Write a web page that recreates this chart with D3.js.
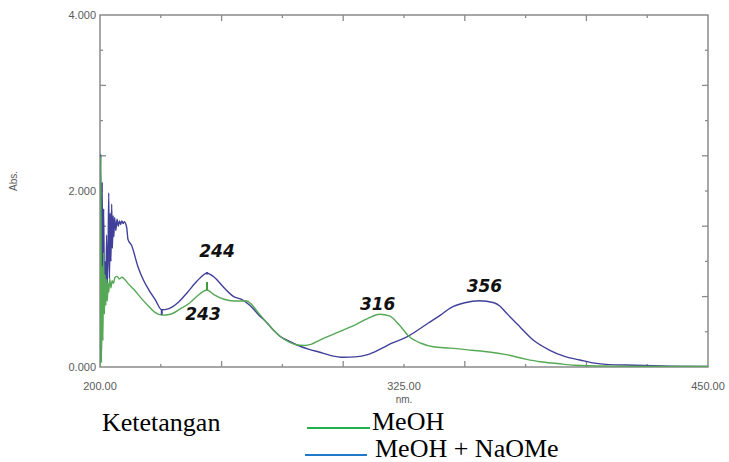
<!DOCTYPE html>
<html>
<head>
<meta charset="utf-8">
<script src="https://cdn.jsdelivr.net/npm/d3@7"></script>
<style>
  html, body { margin: 0; padding: 0; background: #fff; }
  svg { display: block; }
</style>
</head>
<body>
<svg id="chart" width="729" height="462"></svg>
<script>
// UV spectra: wavelength (nm) and absorbance for each solvent system
const meohNm = [200.0, 200.3, 200.6, 200.9, 201.2, 201.5, 201.8, 202.1, 202.4, 202.7, 203.0, 203.3, 203.6,
  204.0, 204.5, 205.0, 205.5, 206.2, 207, 208, 209, 210, 211.5, 214, 217, 220, 222.6, 225.4, 229, 233, 237,
  241, 244, 247, 251, 255, 258, 260.4, 262, 265, 268.7, 272, 274, 278, 281, 284, 287, 290, 295.8, 300, 305,
  310, 315, 319, 323, 327, 332, 337, 344, 353, 360, 367, 375, 381, 388, 395, 410, 430, 450];
const meohAbs = [0.0, 2.40, 0.05, 1.15, 0.30, 1.30, 0.60, 1.05, 0.70, 1.00, 0.75, 0.95, 0.85,
  1.00, 0.90, 0.98, 0.95, 1.02, 1.03, 1.00, 1.02, 1.00, 0.95, 0.88, 0.78, 0.69, 0.62, 0.59, 0.60, 0.66, 0.73,
  0.83, 0.875, 0.82, 0.77, 0.75, 0.75, 0.75, 0.72, 0.62, 0.50, 0.40, 0.35, 0.28, 0.25, 0.245, 0.26, 0.30, 0.37, 0.42, 0.48,
  0.55, 0.60, 0.58, 0.48, 0.35, 0.27, 0.23, 0.215, 0.19, 0.17, 0.14, 0.09, 0.06, 0.04, 0.02, 0.01, 0.006, 0.005];

const naomeNm = [200.0, 200.3, 200.6, 200.9, 201.2, 201.5, 201.8, 202.1, 202.4, 202.7, 203.0, 203.3, 203.6,
  203.9, 204.2, 204.5, 204.8, 205.1, 205.4, 205.7, 206.0, 206.5, 207.0, 207.5, 208.0, 208.5, 209.0, 209.5, 210.0,
  211.0, 211.5, 213, 215.6, 218, 220, 222.6, 225.4, 228, 232, 236, 240, 244, 247, 251, 255, 258, 261.7, 265,
  268.7, 272, 274, 278, 281, 286, 290, 295, 300, 305, 310, 315, 320, 326, 335, 340, 344, 350, 356, 362, 364.5,
  367.2, 372.7, 378, 385, 391, 397.4, 402, 408, 420, 435, 450];
const naomeAbs = [0.05, 2.42, 0.20, 2.10, 0.60, 1.80, 0.90, 1.20, 0.75, 1.50, 0.95, 1.25, 1.98,
  1.00, 1.75, 1.20, 1.85, 1.35, 1.72, 1.48, 1.70, 1.55, 1.68, 1.60, 1.66, 1.62, 1.66, 1.63, 1.65,
  1.58, 1.45, 1.38, 1.14, 0.98, 0.88, 0.77, 0.65, 0.66, 0.73, 0.85, 0.98, 1.065, 1.02, 0.90, 0.80, 0.77, 0.70, 0.60,
  0.50, 0.40, 0.35, 0.29, 0.25, 0.20, 0.17, 0.13, 0.11, 0.115, 0.14, 0.20, 0.27, 0.34, 0.50, 0.59, 0.67, 0.73, 0.753, 0.73, 0.69,
  0.61, 0.455, 0.31, 0.19, 0.12, 0.08, 0.05, 0.03, 0.02, 0.01, 0.005];

// picked peaks (nm) with their printed labels
const peakLabels = ["244", "243", "316", "356"];
const peakNm = [244, 244, 315, 356];
const peakSeries = ["naome", "meoh", "meoh", "naome"];

const xTickLabels = ["200.00", "325.00", "450.00"];
const yTickLabels = ["0.000", "2.000", "4.000"];

const legendNames = ["MeOH", "MeOH + NaOMe"];
const legendTitle = "Ketetangan";

const svg = d3.select("#chart");
const plot = { left: 100, top: 15, right: 708, bottom: 367 };

const x = d3.scaleLinear().domain([200, 450]).range([plot.left, plot.right]);
const y = d3.scaleLinear().domain([0, 4]).range([plot.bottom, plot.top]);

const frameColor = "#8a8a8a";
const labelColor = "#5a5a5a";
const meohColor = "#55a855";
const naomeColor = "#40409a";

// frame
svg.append("rect")
  .attr("x", plot.left).attr("y", plot.top)
  .attr("width", plot.right - plot.left).attr("height", plot.bottom - plot.top)
  .attr("fill", "none").attr("stroke", frameColor).attr("stroke-width", 1.5);

// inward ticks on all four sides: minor every 25 nm / 0.4 Abs, longer every 50 nm / 0.8 Abs
const xTicks = d3.range(225, 450, 25);
const yTicks = d3.range(1, 10).map(i => i * 0.4);
const ticks = svg.append("g").attr("stroke", frameColor).attr("stroke-width", 1.3);
xTicks.forEach(v => {
  const len = (v % 50 === 0) ? 6 : 3;
  ticks.append("line").attr("x1", x(v)).attr("x2", x(v)).attr("y1", plot.bottom).attr("y2", plot.bottom - len);
  ticks.append("line").attr("x1", x(v)).attr("x2", x(v)).attr("y1", plot.top).attr("y2", plot.top + len);
});
yTicks.forEach((v, i) => {
  const len = (i % 2 === 1) ? 6 : 3;
  ticks.append("line").attr("y1", y(v)).attr("y2", y(v)).attr("x1", plot.left).attr("x2", plot.left + len);
  ticks.append("line").attr("y1", y(v)).attr("y2", y(v)).attr("x1", plot.right).attr("x2", plot.right - len);
});

// tick labels
const tickFont = "'Liberation Sans', Arial, sans-serif";
xTickLabels.forEach(t => {
  svg.append("text").attr("x", x(+t)).attr("y", 390)
    .attr("text-anchor", "middle").attr("font-family", tickFont).attr("font-size", 11)
    .attr("fill", labelColor).text(t);
});
yTickLabels.forEach(t => {
  svg.append("text").attr("x", 96).attr("y", y(+t) + 4)
    .attr("text-anchor", "end").attr("font-family", tickFont).attr("font-size", 11)
    .attr("fill", labelColor).text(t);
});
svg.append("text").attr("x", x(325)).attr("y", 403)
  .attr("text-anchor", "middle").attr("font-family", tickFont).attr("font-size", 10)
  .attr("fill", labelColor).text("nm.");
svg.append("text").attr("transform", "translate(17,181) rotate(-90)")
  .attr("text-anchor", "middle").attr("font-family", tickFont).attr("font-size", 10)
  .attr("fill", labelColor).text("Abs.");

// spectra
const toPts = (nm, abs) => nm.map((v, i) => [v, abs[i]]);
const line = d3.line().x(d => x(d[0])).y(d => y(d[1])).curve(d3.curveMonotoneX);
const meohPts = toPts(meohNm, meohAbs);
const naomePts = toPts(naomeNm, naomeAbs);

svg.append("clipPath").attr("id", "plotclip").append("rect")
  .attr("x", plot.left).attr("y", plot.top)
  .attr("width", plot.right - plot.left).attr("height", plot.bottom - plot.top);
const curves = svg.append("g").attr("clip-path", "url(#plotclip)");

curves.append("path").datum(naomePts).attr("d", line)
  .attr("fill", "none").attr("stroke", naomeColor).attr("stroke-width", 1.4);
curves.append("path").datum(meohPts).attr("d", line)
  .attr("fill", "none").attr("stroke", meohColor).attr("stroke-width", 1.4);

// valley / peak pick markers
const absAt = (nmArr, absArr, v) => absArr[nmArr.indexOf(v)];
const markers = svg.append("g").attr("stroke-width", 2);
markers.append("line")
  .attr("x1", x(225.4)).attr("x2", x(225.4))
  .attr("y1", y(absAt(naomeNm, naomeAbs, 225.4))).attr("y2", y(absAt(naomeNm, naomeAbs, 225.4)) + 5)
  .attr("stroke", naomeColor);
markers.append("line")
  .attr("x1", x(244)).attr("x2", x(244))
  .attr("y1", y(absAt(meohNm, meohAbs, 244))).attr("y2", y(absAt(meohNm, meohAbs, 244)) - 8)
  .attr("stroke", "#3d9a3d");
markers.append("circle").attr("cx", x(244)).attr("cy", y(absAt(naomeNm, naomeAbs, 244))).attr("r", 1.3)
  .attr("fill", naomeColor);

// peak annotations
const annFont = "'DejaVu Sans', sans-serif";
const annOffset = { "244": [10, -16], "243": [-4, 30], "316": [-2, -4], "356": [5, -9] };
peakLabels.forEach((lab, i) => {
  const nm = peakNm[i];
  const pts = peakSeries[i] === "naome" ? naomePts : meohPts;
  const yv = pts.find(p => p[0] === nm)[1];
  const off = annOffset[lab];
  svg.append("text").attr("x", x(nm) + off[0]).attr("y", y(yv) + off[1])
    .attr("text-anchor", "middle").attr("font-family", annFont)
    .attr("font-weight", "bold").attr("font-style", "italic").attr("font-size", 17)
    .attr("fill", "#111").text(lab);
});

// legend
const serif = "'Liberation Serif', 'Times New Roman', serif";
svg.append("text").attr("x", 102).attr("y", 431)
  .attr("font-family", serif).attr("font-size", 26).attr("fill", "#000").text(legendTitle);
const legendColors = ["#22b14c", "#1f78c8"];
const legendRows = [{ lx: 307, lw: 63, ly: 428, tx: 372, ty: 430 }, { lx: 305, lw: 62, ly: 455, tx: 375, ty: 457 }];
legendNames.forEach((name, i) => {
  const r = legendRows[i];
  svg.append("line").attr("x1", r.lx).attr("x2", r.lx + r.lw).attr("y1", r.ly).attr("y2", r.ly)
    .attr("stroke", legendColors[i]).attr("stroke-width", 2);
  svg.append("text").attr("x", r.tx).attr("y", r.ty)
    .attr("font-family", serif).attr("font-size", 26).attr("fill", "#000").text(name);
});
</script>
</body>
</html>
